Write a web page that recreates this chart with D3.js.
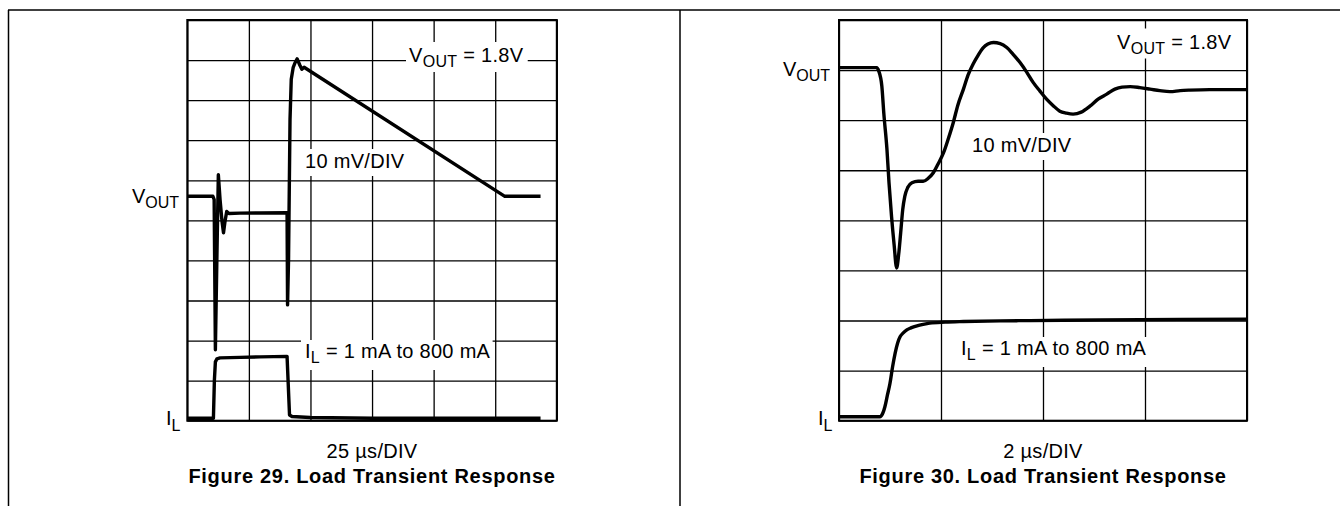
<!DOCTYPE html>
<html><head><meta charset="utf-8">
<script src="https://cdn.jsdelivr.net/npm/d3@7"></script>
<style>
body{margin:0;background:#fff}
svg text{font-family:"Liberation Sans",Arial,Helvetica,sans-serif;fill:#000}
</style>
</head><body>
<svg id="c" width="1340" height="506"></svg>
<script>
// ---------------- DATA ----------------
// Figure 29 : 25 us/DIV, 10 mV/DIV (VOUT deviation from 1.8 V, mV), IL in mA
const fig29VoutTime = [0, 10.4, 10.9, 11.4, 12.0, 12.6, 13.3, 14.1, 14.7, 15.3, 16.0, 16.9, 21.4, 29.5, 40.5, 40.7, 41.1, 41.7, 42.2, 43.0, 43.8, 44.6, 45.7, 46.5, 47.4, 128.9, 143.4];
const fig29Vout     = [0, 0, -0.8, -38.3, -15.8, 5.4, -0.8, -6.3, -9.1, -6.3, -3.8, -4.3, -4.2, -4.15, -4.1, -27.1, -15.8, 19.2, 29.2, 32.2, 33.4, 34.3, 32.7, 31.7, 32.2, 0, 0];
const fig29ILTime   = [0, 10.6, 11.0, 11.4, 12.0, 13.3, 21.4, 29.5, 40.5, 40.9, 41.5, 42.5, 49.8, 75.4, 143.4];
const fig29IL       = [0, 0, 500, 735, 774, 787, 793, 800, 806, 500, 43, 23, 10, 0, 0];

// Figure 30 : 2 us/DIV, 10 mV/DIV
const fig30VoutTime = [0, 0.74, 0.78, 0.84, 0.88, 0.94, 0.98, 1.03, 1.08, 1.13, 1.17, 1.21, 1.25, 1.29, 1.35, 1.43, 1.55, 1.65, 1.75, 1.85, 1.94, 2.05, 2.14, 2.24, 2.33, 2.44, 2.53, 2.63, 2.73, 2.83, 2.92, 3.03, 3.16, 3.29, 3.41, 3.55, 3.68, 3.81, 3.94, 4.07, 4.20, 4.33, 4.46, 4.59, 4.75, 4.92, 5.08, 5.25, 5.41, 5.55, 5.71, 5.90, 6.10, 6.29, 6.49, 6.69, 6.88, 7.27, 7.67, 8.0];
const fig30Vout     = [0, 0, -0.7, -3.7, -9.3, -16.3, -22.9, -29.7, -35.3, -40, -37.3, -32.9, -28.3, -25.7, -23.9, -23, -22.7, -22.7, -22.1, -21, -19.3, -17, -14.3, -11, -7.5, -4.3, -1.5, 0.7, 2.5, 4, 4.7, 5, 4.8, 4, 2.7, 1, -0.9, -3, -4.7, -6.3, -7.6, -8.7, -9.1, -9.3, -8.9, -7.7, -6.3, -5.3, -4.3, -3.9, -3.8, -4.0, -4.3, -4.6, -4.8, -4.6, -4.5, -4.4, -4.4, -4.4];
const fig30ILTime   = [0, 0.80, 0.86, 0.90, 0.95, 1.0, 1.05, 1.10, 1.15, 1.20, 1.26, 1.33, 1.41, 1.53, 1.65, 1.78, 2.08, 2.44, 3.16, 3.75, 5.12, 6.69, 8.0];
const fig30IL       = [0, 0, 30, 82, 178, 274, 408, 520, 605, 657, 687, 712, 728, 745, 757, 767, 775, 780, 786, 788, 794, 798, 800];

// grid divisions (tick values, in divisions)
const fig29XDivs = [0, 1, 2, 3, 4, 5, 6];
const fig29YDivs = [0, 1, 2, 3, 4, 5, 6, 7, 8, 9, 10];
const fig30XDivs = [0, 1, 2, 3, 4];
const fig30YDivs = [0, 1, 2, 3, 4, 5, 6, 7, 8];

// texts
const fig29Texts = {vset: "= 1.8V", vdiv: "10 mV/DIV", il: "= 1 mA to 800 mA", tdiv: "25 µs/DIV", title: "Figure 29. Load Transient Response"};
const fig30Texts = {vset: "= 1.8V", vdiv: "10 mV/DIV", il: "= 1 mA to 800 mA", tdiv: "2 µs/DIV", title: "Figure 30. Load Transient Response"};

// ---------------- DRAW ----------------
const FS = 20, SUB = 16, LS = "0.3px";
const svg = d3.select("#c");
svg.append("rect").attr("width",1340).attr("height",506).attr("fill","#fff");

// page frame
svg.append("line").attr("x1",8).attr("x2",1340).attr("y1",10).attr("y2",10).attr("stroke","#000").attr("stroke-width",1.5);
svg.append("line").attr("x1",8.5).attr("x2",8.5).attr("y1",10).attr("y2",506).attr("stroke","#000").attr("stroke-width",1.5);
svg.append("line").attr("x1",680).attr("x2",680).attr("y1",10).attr("y2",506).attr("stroke","#000").attr("stroke-width",1.5);

function panel(cfg){
  const g = svg.append("g");
  const W = cfg.x1 - cfg.x0, H = cfg.y1 - cfg.y0;
  const nx = cfg.xDivs.length - 1, ny = cfg.yDivs.length - 1;
  const xDiv = d3.scaleLinear().domain([0, nx]).range([cfg.x0, cfg.x1]);
  const yDiv = d3.scaleLinear().domain([0, ny]).range([cfg.y1, cfg.y0]);
  const xT = d3.scaleLinear().domain([0, nx*cfg.usPerDiv]).range([cfg.x0, cfg.x1]);
  const yV = d3.scaleLinear().domain([-cfg.vZeroDiv*10, (ny-cfg.vZeroDiv)*10]).range([cfg.y1, cfg.y0]);
  const yI = d3.scaleLinear().domain([-cfg.iZeroDiv*cfg.mAPerDiv, (ny-cfg.iZeroDiv)*cfg.mAPerDiv]).range([cfg.y1, cfg.y0]);

  // grid via axes
  const gx = g.append("g").attr("transform",`translate(0,${cfg.y1})`)
    .call(d3.axisBottom(xDiv).tickValues(cfg.xDivs).tickSize(-H).tickFormat(""));
  const gy = g.append("g").attr("transform",`translate(${cfg.x0},0)`)
    .call(d3.axisLeft(yDiv).tickValues(cfg.yDivs).tickSize(-W).tickFormat(""));
  [gx, gy].forEach(a => {
    a.select(".domain").remove();
    a.selectAll("line").attr("stroke","#000").attr("stroke-width",1.3);
  });
  g.append("rect").attr("x",cfg.x0).attr("y",cfg.y0).attr("width",W).attr("height",H)
    .attr("fill","none").attr("stroke","#000").attr("stroke-width",2);

  // in-plot labels with white boxes
  const labels = g.append("g");
  function lab(x, y, main, sub, rest, boxed){
    const t = labels.append("text").attr("x",x).attr("y",y).attr("font-size",FS).attr("letter-spacing",LS);
    t.append("tspan").text(main);
    t.append("tspan").attr("font-size",SUB).attr("dy",5).text(sub);
    if (rest) t.append("tspan").attr("dy",-5).text(" " + rest);
    if (boxed){
      const b = t.node().getBBox();
      labels.insert("rect", "text").attr("x", b.x - boxed[0]).attr("y", b.y - boxed[1])
        .attr("width", b.width + boxed[0] + boxed[2]).attr("height", b.height + boxed[1] + boxed[3]).attr("fill","#fff");
    }
    return t;
  }
  lab(cfg.vsetX, cfg.vsetY, "V", "OUT", cfg.texts.vset, cfg.vsetBox);
  const vd = labels.append("text").attr("x",cfg.vdivX).attr("y",cfg.vdivY).attr("font-size",FS).attr("letter-spacing",LS).text(cfg.texts.vdiv);
  const bb = vd.node().getBBox();
  labels.insert("rect","text").attr("x",bb.x-4).attr("y",bb.y-1).attr("width",bb.width+6).attr("height",bb.height+5).attr("fill","#fff");
  lab(cfg.ilX, cfg.ilY, "I", "L", cfg.texts.il, [4,0,2,4]);

  // traces
  const lineV = d3.line().x((d,i)=>xT(cfg.vt[i])).y(d=>yV(d)).curve(cfg.curve);
  const lineI = d3.line().x((d,i)=>xT(cfg.it[i])).y(d=>yI(d)).curve(cfg.curve);
  g.append("path").attr("d", lineV(cfg.v)).attr("fill","none").attr("stroke","#000").attr("stroke-width",3.4).attr("stroke-linejoin","round");
  g.append("path").attr("d", lineI(cfg.i)).attr("fill","none").attr("stroke","#000").attr("stroke-width",3.4).attr("stroke-linejoin","round");

  // outside labels
  const vo = g.append("text").attr("x",cfg.voutX).attr("y",cfg.voutY).attr("font-size",FS);
  vo.append("tspan").text("V"); vo.append("tspan").attr("font-size",SUB).attr("dy",5).text("OUT");
  const il = g.append("text").attr("x",cfg.ilLabX).attr("y",425).attr("font-size",FS);
  il.append("tspan").text("I"); il.append("tspan").attr("font-size",SUB).attr("dy",6).text("L");

  const cx = (cfg.x0 + cfg.x1)/2;
  g.append("text").attr("x",cx).attr("y",458).attr("text-anchor","middle").attr("font-size",FS).attr("letter-spacing",LS).text(cfg.texts.tdiv);
  g.append("text").attr("x",cx).attr("y",483).attr("text-anchor","middle").attr("font-size",20).attr("font-weight","bold").attr("letter-spacing","0.7px").text(cfg.texts.title);
}

panel({
  x0:187.3, x1:556.8, y0:20, y1:420.7, xDivs:fig29XDivs, yDivs:fig29YDivs,
  usPerDiv:25, vZeroDiv:5.6, iZeroDiv:0.06, mAPerDiv:522,
  vt:fig29VoutTime, v:fig29Vout, it:fig29ILTime, i:fig29IL, curve:d3.curveLinear,
  texts:fig29Texts,
  vsetX:409, vsetY:62, vsetBox:[3,2,4,2],
  vdivX:305, vdivY:168, ilX:305, ilY:358,
  voutX:132, voutY:203, ilLabX:166
});
panel({
  x0:839, x1:1247, y0:20, y1:420.7, xDivs:fig30XDivs, yDivs:fig30YDivs,
  usPerDiv:2, vZeroDiv:7.05, iZeroDiv:0.08, mAPerDiv:410.7,
  vt:fig30VoutTime, v:fig30Vout, it:fig30ILTime, i:fig30IL, curve:d3.curveMonotoneX,
  texts:fig30Texts,
  vsetX:1117, vsetY:48.5, vsetBox:[3,2,3,2],
  vdivX:972, vdivY:152, ilX:961, ilY:355,
  voutX:783, voutY:76, ilLabX:818
});
</script>
</body></html>
